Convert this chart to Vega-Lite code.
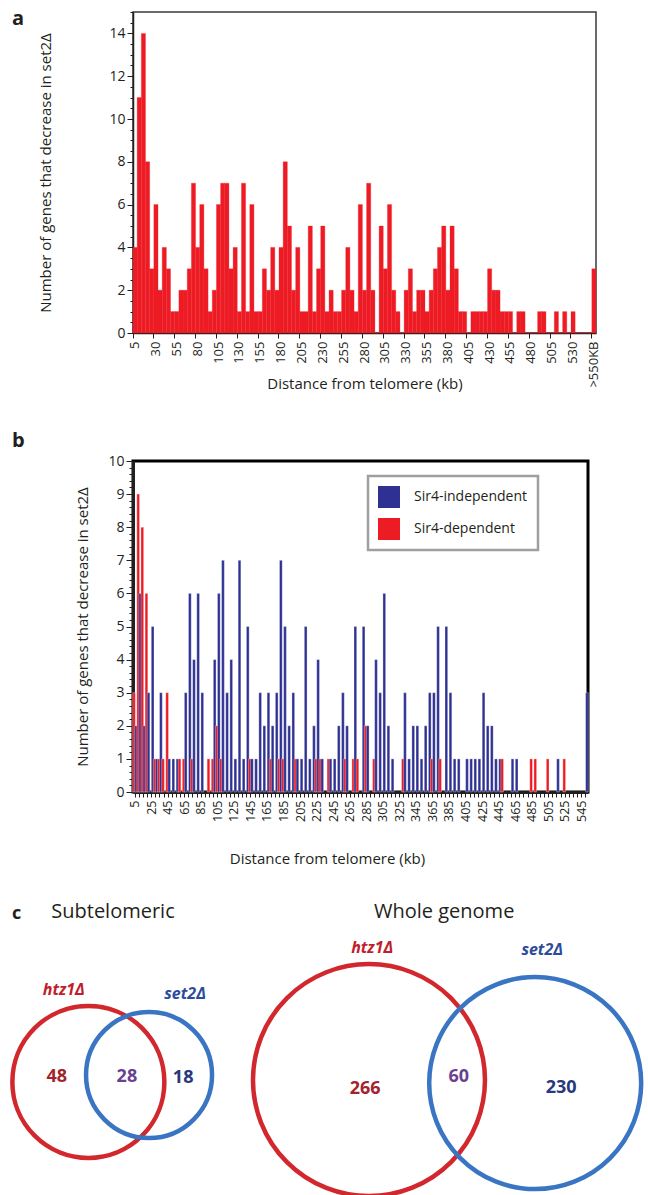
{
  "$schema": "https://vega.github.io/schema/vega-lite/v6.json",
  "padding": {"left": 3, "top": 7, "right": 0, "bottom": 0},
  "background": "white",
  "bounds": "flush",
  "spacing": 128,
  "resolve": {"scale": {"color": "independent", "size": "independent"}, "legend": {"color": "independent", "size": "independent"}},
  "config": {
    "font": "Open Sans",
    "view": {"stroke": null},
    "axis": {"labelColor": "#231F20", "titleColor": "#231F20", "tickColor": "#231F20", "domainColor": "#231F20", "labelFont": "Open Sans", "titleFont": "Open Sans", "titleFontWeight": "normal", "grid": false, "tickWidth": 1},
    "title": {"font": "Open Sans", "color": "#231F20", "fontWeight": "bold"},
    "legend": {"strokeColor": "#9D9FA2", "strokeWidth": 2.5, "fillColor": "white", "padding": 10}
  },
  "datasets": {
    "hist": [
      {"kb":5,"n":4},{"kb":10,"n":11},{"kb":15,"n":14},{"kb":20,"n":8},{"kb":25,"n":3},{"kb":30,"n":6},{"kb":35,"n":2},{"kb":40,"n":4},{"kb":45,"n":3},{"kb":50,"n":1},
      {"kb":55,"n":1},{"kb":60,"n":2},{"kb":65,"n":2},{"kb":70,"n":3},{"kb":75,"n":7},{"kb":80,"n":4},{"kb":85,"n":6},{"kb":90,"n":3},{"kb":95,"n":1},{"kb":100,"n":2},
      {"kb":105,"n":6},{"kb":110,"n":7},{"kb":115,"n":7},{"kb":120,"n":3},{"kb":125,"n":4},{"kb":130,"n":1},{"kb":135,"n":7},{"kb":140,"n":1},{"kb":145,"n":6},{"kb":150,"n":1},
      {"kb":155,"n":1},{"kb":160,"n":3},{"kb":165,"n":2},{"kb":170,"n":4},{"kb":175,"n":2},{"kb":180,"n":4},{"kb":185,"n":8},{"kb":190,"n":5},{"kb":195,"n":2},{"kb":200,"n":4},
      {"kb":205,"n":1},{"kb":210,"n":1},{"kb":215,"n":5},{"kb":220,"n":1},{"kb":225,"n":3},{"kb":230,"n":5},{"kb":235,"n":1},{"kb":240,"n":2},{"kb":245,"n":1},{"kb":250,"n":1},
      {"kb":255,"n":2},{"kb":260,"n":4},{"kb":265,"n":2},{"kb":270,"n":1},{"kb":275,"n":6},{"kb":280,"n":2},{"kb":285,"n":7},{"kb":290,"n":2},{"kb":295,"n":0},{"kb":300,"n":5},
      {"kb":305,"n":3},{"kb":310,"n":6},{"kb":315,"n":2},{"kb":320,"n":1},{"kb":325,"n":0},{"kb":330,"n":2},{"kb":335,"n":3},{"kb":340,"n":1},{"kb":345,"n":2},{"kb":350,"n":2},
      {"kb":355,"n":1},{"kb":360,"n":2},{"kb":365,"n":3},{"kb":370,"n":4},{"kb":375,"n":5},{"kb":380,"n":2},{"kb":385,"n":5},{"kb":390,"n":3},{"kb":395,"n":1},{"kb":400,"n":1},
      {"kb":405,"n":0},{"kb":410,"n":1},{"kb":415,"n":1},{"kb":420,"n":1},{"kb":425,"n":1},{"kb":430,"n":3},{"kb":435,"n":2},{"kb":440,"n":2},{"kb":445,"n":1},{"kb":450,"n":1},
      {"kb":455,"n":1},{"kb":460,"n":0},{"kb":465,"n":1},{"kb":470,"n":1},{"kb":475,"n":0},{"kb":480,"n":0},{"kb":485,"n":0},{"kb":490,"n":1},{"kb":495,"n":1},{"kb":500,"n":0},
      {"kb":505,"n":0},{"kb":510,"n":1},{"kb":515,"n":0},{"kb":520,"n":1},{"kb":525,"n":0},{"kb":530,"n":1},{"kb":535,"n":0},{"kb":540,"n":0},{"kb":545,"n":0},{"kb":550,"n":0},
      {"kb":555,"n":3}
    ],
    "sir": [
      {"d":5,"s":"Sir4-dependent","n":3},{"d":5,"s":"Sir4-independent","n":2},
      {"d":10,"s":"Sir4-dependent","n":9},{"d":10,"s":"Sir4-independent","n":6},
      {"d":15,"s":"Sir4-dependent","n":8},{"d":15,"s":"Sir4-independent","n":2},
      {"d":20,"s":"Sir4-dependent","n":6},{"d":20,"s":"Sir4-independent","n":3},
      {"d":25,"s":"Sir4-independent","n":5},
      {"d":30,"s":"Sir4-dependent","n":1},{"d":30,"s":"Sir4-independent","n":1},
      {"d":35,"s":"Sir4-dependent","n":1},{"d":35,"s":"Sir4-independent","n":3},
      {"d":40,"s":"Sir4-dependent","n":1},
      {"d":45,"s":"Sir4-dependent","n":3},{"d":45,"s":"Sir4-independent","n":1},
      {"d":50,"s":"Sir4-independent","n":1},
      {"d":55,"s":"Sir4-independent","n":1},
      {"d":60,"s":"Sir4-dependent","n":1},
      {"d":65,"s":"Sir4-dependent","n":1},{"d":65,"s":"Sir4-independent","n":3},
      {"d":70,"s":"Sir4-independent","n":6},
      {"d":75,"s":"Sir4-dependent","n":1},{"d":75,"s":"Sir4-independent","n":4},
      {"d":80,"s":"Sir4-independent","n":6},
      {"d":85,"s":"Sir4-independent","n":3},
      {"d":95,"s":"Sir4-dependent","n":1},
      {"d":100,"s":"Sir4-dependent","n":1},{"d":100,"s":"Sir4-independent","n":4},
      {"d":105,"s":"Sir4-dependent","n":2},{"d":105,"s":"Sir4-independent","n":6},
      {"d":110,"s":"Sir4-dependent","n":1},{"d":110,"s":"Sir4-independent","n":7},
      {"d":115,"s":"Sir4-independent","n":3},
      {"d":120,"s":"Sir4-independent","n":4},
      {"d":125,"s":"Sir4-independent","n":1},
      {"d":130,"s":"Sir4-independent","n":7},
      {"d":135,"s":"Sir4-independent","n":1},
      {"d":140,"s":"Sir4-independent","n":5},
      {"d":145,"s":"Sir4-dependent","n":1},{"d":145,"s":"Sir4-independent","n":1},
      {"d":150,"s":"Sir4-independent","n":1},
      {"d":155,"s":"Sir4-independent","n":3},
      {"d":160,"s":"Sir4-independent","n":2},
      {"d":165,"s":"Sir4-independent","n":3},
      {"d":170,"s":"Sir4-dependent","n":1},{"d":170,"s":"Sir4-independent","n":2},
      {"d":175,"s":"Sir4-independent","n":3},
      {"d":180,"s":"Sir4-dependent","n":1},{"d":180,"s":"Sir4-independent","n":7},
      {"d":185,"s":"Sir4-dependent","n":1},{"d":185,"s":"Sir4-independent","n":5},
      {"d":190,"s":"Sir4-independent","n":2},
      {"d":195,"s":"Sir4-independent","n":3},
      {"d":200,"s":"Sir4-dependent","n":1},{"d":200,"s":"Sir4-independent","n":1},
      {"d":205,"s":"Sir4-independent","n":1},
      {"d":210,"s":"Sir4-independent","n":5},
      {"d":215,"s":"Sir4-independent","n":1},
      {"d":220,"s":"Sir4-independent","n":2},
      {"d":225,"s":"Sir4-dependent","n":1},{"d":225,"s":"Sir4-independent","n":4},
      {"d":230,"s":"Sir4-dependent","n":1},{"d":230,"s":"Sir4-independent","n":1},
      {"d":240,"s":"Sir4-dependent","n":1},{"d":240,"s":"Sir4-independent","n":1},
      {"d":245,"s":"Sir4-independent","n":1},
      {"d":250,"s":"Sir4-independent","n":2},
      {"d":255,"s":"Sir4-independent","n":3},
      {"d":260,"s":"Sir4-dependent","n":1},{"d":260,"s":"Sir4-independent","n":2},
      {"d":270,"s":"Sir4-dependent","n":1},{"d":270,"s":"Sir4-independent","n":5},
      {"d":275,"s":"Sir4-dependent","n":1},
      {"d":280,"s":"Sir4-independent","n":5},
      {"d":285,"s":"Sir4-dependent","n":2},{"d":285,"s":"Sir4-independent","n":2},
      {"d":295,"s":"Sir4-dependent","n":1},{"d":295,"s":"Sir4-independent","n":4},
      {"d":300,"s":"Sir4-independent","n":3},
      {"d":305,"s":"Sir4-independent","n":6},
      {"d":310,"s":"Sir4-independent","n":2},
      {"d":315,"s":"Sir4-independent","n":1},
      {"d":330,"s":"Sir4-dependent","n":1},{"d":330,"s":"Sir4-independent","n":3},
      {"d":335,"s":"Sir4-independent","n":1},
      {"d":340,"s":"Sir4-independent","n":2},
      {"d":345,"s":"Sir4-independent","n":2},
      {"d":350,"s":"Sir4-independent","n":1},
      {"d":355,"s":"Sir4-independent","n":2},
      {"d":360,"s":"Sir4-independent","n":3},
      {"d":365,"s":"Sir4-dependent","n":1},{"d":365,"s":"Sir4-independent","n":3},
      {"d":370,"s":"Sir4-independent","n":5},
      {"d":375,"s":"Sir4-dependent","n":1},
      {"d":380,"s":"Sir4-independent","n":5},
      {"d":385,"s":"Sir4-independent","n":3},
      {"d":390,"s":"Sir4-independent","n":1},
      {"d":395,"s":"Sir4-independent","n":1},
      {"d":405,"s":"Sir4-independent","n":1},
      {"d":410,"s":"Sir4-independent","n":1},
      {"d":415,"s":"Sir4-independent","n":1},
      {"d":420,"s":"Sir4-independent","n":1},
      {"d":425,"s":"Sir4-independent","n":3},
      {"d":430,"s":"Sir4-independent","n":2},
      {"d":435,"s":"Sir4-independent","n":2},
      {"d":440,"s":"Sir4-independent","n":1},
      {"d":445,"s":"Sir4-independent","n":1},
      {"d":450,"s":"Sir4-dependent","n":1},
      {"d":460,"s":"Sir4-independent","n":1},
      {"d":465,"s":"Sir4-independent","n":1},
      {"d":485,"s":"Sir4-dependent","n":1},
      {"d":490,"s":"Sir4-dependent","n":1},
      {"d":505,"s":"Sir4-dependent","n":1},
      {"d":515,"s":"Sir4-independent","n":1},
      {"d":525,"s":"Sir4-dependent","n":1},
      {"d":550,"s":"Sir4-independent","n":3}
    ],
    "venn": [
      {"kind":"circle","diagram":"Subtelomeric","grp":"htz1Δ","total":76,"px":12.4,"py":37.7},
      {"kind":"circle","diagram":"Subtelomeric","grp":"set2Δ","total":46,"px":22.0,"py":40.0},
      {"kind":"circle","diagram":"Whole genome","grp":"htz1Δ","total":326,"px":56.8,"py":38.3},
      {"kind":"circle","diagram":"Whole genome","grp":"set2Δ","total":290,"px":83.1,"py":37.3},
      {"kind":"count","diagram":"Subtelomeric","grp":"htz1Δ only","label":"48","px":7.4,"py":39.3},
      {"kind":"count","diagram":"Subtelomeric","grp":"both","label":"28","px":18.5,"py":39.3},
      {"kind":"count","diagram":"Subtelomeric","grp":"set2Δ only","label":"18","px":27.4,"py":39.0},
      {"kind":"count","diagram":"Whole genome","grp":"htz1Δ only","label":"266","px":56.2,"py":35.3},
      {"kind":"count","diagram":"Whole genome","grp":"both","label":"60","px":71.0,"py":39.3},
      {"kind":"count","diagram":"Whole genome","grp":"set2Δ only","label":"230","px":87.2,"py":35.7},
      {"kind":"name","diagram":"Subtelomeric","grp":"htz1Δ name","label":"htz1Δ","px":8.5,"py":68.3},
      {"kind":"name","diagram":"Subtelomeric","grp":"set2Δ name","label":"set2Δ","px":27.7,"py":67.0},
      {"kind":"name","diagram":"Whole genome","grp":"htz1Δ name","label":"htz1Δ","px":57.3,"py":82.3},
      {"kind":"name","diagram":"Whole genome","grp":"set2Δ name","label":"set2Δ","px":84.2,"py":81.7},
      {"kind":"heading","diagram":"Subtelomeric","grp":"heading","label":"Subtelomeric","px":16.3,"py":94.3},
      {"kind":"heading","diagram":"Whole genome","grp":"heading","label":"Whole genome","px":68.7,"py":94.3}
    ]
  },
  "vconcat": [
    {
      "width": 463,
      "height": 321,
      "view": {"stroke": "#3a3a3a", "strokeWidth": 1.5},
      "title": {"text": "a", "anchor": "start", "frame": "group", "dx": -121, "offset": -33, "baseline": "alphabetic", "fontSize": 20},
      "data": {"name": "hist"},
      "mark": {"type": "bar", "color": "#ED1C24", "stroke": "#ED1C24", "strokeWidth": 0.3},
      "encoding": {
        "x": {
          "field": "kb", "type": "ordinal",
          "scale": {"paddingInner": 0, "paddingOuter": 0},
          "axis": {
            "title": "Distance from telomere (kb)",
            "values": [5,30,55,80,105,130,155,180,205,230,255,280,305,330,355,380,405,430,455,480,505,530,555],
            "bandPosition": 0,
            "labelAngle": -90,
            "labelExpr": "datum.value == 555 ? '>550KB' : datum.label",
            "labelOverlap": false,
            "labelFontSize": 13,
            "labelPadding": 3,
            "tickSize": 5,
            "domainWidth": 1.5,
            "titleFontSize": 15,
            "titleY": 50,
            "titleBaseline": "middle"
          }
        },
        "y": {
          "field": "n", "type": "quantitative",
          "scale": {"domain": [0, 15], "nice": false},
          "axis": {
            "title": "Number of genes that decrease in set2Δ",
            "values": [0,0.5,1,1.5,2,2.5,3,3.5,4,4.5,5,5.5,6,6.5,7,7.5,8,8.5,9,9.5,10,10.5,11,11.5,12,12.5,13,13.5,14,14.5,15],
            "labelExpr": "datum.value % 2 == 0 && datum.value < 15 ? format(datum.value, 'd') : ''",
            "tickSize": {"expr": "datum.value % 2 == 0 ? 6 : 3"},
            "labelFontSize": 14,
            "domainWidth": 1.5,
            "titleFontSize": 15,
            "titleX": -88,
            "titleBaseline": "middle"
          }
        }
      }
    },
    {
      "width": 455,
      "height": 331,
      "view": {"stroke": "#000000", "strokeWidth": 3},
      "title": {"text": "b", "anchor": "start", "frame": "group", "dx": -121, "offset": -13, "baseline": "alphabetic", "fontSize": 20},
      "data": {"name": "sir"},
      "mark": {"type": "bar", "size": 2.7, "stroke": "white", "strokeWidth": 0.3},
      "encoding": {
        "x": {
          "field": "d", "type": "ordinal",
          "scale": {
            "domain": [5,10,15,20,25,30,35,40,45,50,55,60,65,70,75,80,85,90,95,100,105,110,115,120,125,130,135,140,145,150,155,160,165,170,175,180,185,190,195,200,205,210,215,220,225,230,235,240,245,250,255,260,265,270,275,280,285,290,295,300,305,310,315,320,325,330,335,340,345,350,355,360,365,370,375,380,385,390,395,400,405,410,415,420,425,430,435,440,445,450,455,460,465,470,475,480,485,490,495,500,505,510,515,520,525,530,535,540,545,550],
            "paddingInner": 0, "paddingOuter": 0
          },
          "axis": {
            "title": "Distance from telomere (kb)",
            "labelAngle": -90,
            "labelExpr": "(datum.value - 5) % 20 == 0 ? datum.label : ''",
            "labelOverlap": false,
            "labelFontSize": 12.5,
            "labelPadding": 3,
            "tickSize": 5,
            "domainWidth": 3,
            "titleFontSize": 15,
            "titleX": 194,
            "titleY": 66,
            "titleBaseline": "middle"
          }
        },
        "xOffset": {
          "field": "s", "type": "nominal",
          "scale": {"domain": ["Sir4-dependent", "Sir4-independent"], "paddingInner": 0, "paddingOuter": 0}
        },
        "y": {
          "field": "n", "type": "quantitative",
          "scale": {"domain": [0, 10], "nice": false},
          "axis": {
            "title": "Number of genes that decrease in set2Δ",
            "values": [0,0.2,0.4,0.6,0.8,1,1.2,1.4,1.6,1.8,2,2.2,2.4,2.6,2.8,3,3.2,3.4,3.6,3.8,4,4.2,4.4,4.6,4.8,5,5.2,5.4,5.6,5.8,6,6.2,6.4,6.6,6.8,7,7.2,7.4,7.6,7.8,8,8.2,8.4,8.6,8.8,9,9.2,9.4,9.6,9.8,10],
            "labelExpr": "datum.value % 1 == 0 ? format(datum.value, 'd') : ''",
            "tickSize": {"expr": "datum.value % 1 == 0 ? 7 : 4"},
            "labelFontSize": 14,
            "domainWidth": 3,
            "titleFontSize": 15,
            "titleX": -51,
            "titleBaseline": "middle"
          }
        },
        "color": {
          "field": "s", "type": "nominal",
          "scale": {"domain": ["Sir4-independent", "Sir4-dependent"], "range": ["#2E3192", "#ED1C24"]},
          "legend": {
            "title": null,
            "orient": "none",
            "legendX": 235,
            "legendY": 15,
            "direction": "vertical",
            "symbolType": "square",
            "symbolSize": 484,
            "symbolStrokeWidth": 0,
            "symbolOpacity": 1,
            "labelFontSize": 14,
            "labelFont": "Open Sans",
            "labelColor": "#231F20",
            "labelOffset": 14,
            "rowPadding": 10
          }
        }
      }
    },
    {
      "width": 463,
      "height": 275,
      "view": {"stroke": null},
      "title": {"text": "c", "anchor": "start", "frame": "group", "dx": -121, "offset": -35, "baseline": "alphabetic", "fontSize": 18},
      "data": {"name": "venn"},
      "encoding": {
        "x": {"field": "px", "type": "quantitative", "scale": {"domain": [0, 100], "range": [-123, 509]}, "axis": null},
        "y": {"field": "py", "type": "quantitative", "scale": {"domain": [0, 100], "range": [275, -25]}, "axis": null}
      },
      "layer": [
        {
          "transform": [{"filter": "datum.kind == 'circle'"}],
          "mark": {"type": "point", "shape": "circle", "filled": false, "strokeWidth": 4.5, "opacity": 1},
          "encoding": {
            "size": {"field": "total", "type": "quantitative", "scale": {"domain": [46, 76, 290, 326], "range": [15876, 23104, 44944, 53824]}, "legend": null},
            "color": {"field": "grp", "type": "nominal", "scale": {"domain": ["htz1Δ", "set2Δ", "htz1Δ only", "both", "set2Δ only", "htz1Δ name", "set2Δ name", "heading"], "range": ["#D1272D", "#3A75C4", "#A3242B", "#6B3F91", "#28387F", "#BE1E2D", "#2B4C9B", "#231F20"]}, "legend": null}
          }
        },
        {
          "transform": [{"filter": "datum.kind == 'count'"}],
          "mark": {"type": "text", "fontSize": 18, "fontWeight": "bold", "align": "center", "baseline": "middle"},
          "encoding": {
            "text": {"field": "label"},
            "color": {"field": "grp", "type": "nominal", "scale": {"domain": ["htz1Δ", "set2Δ", "htz1Δ only", "both", "set2Δ only", "htz1Δ name", "set2Δ name", "heading"], "range": ["#D1272D", "#3A75C4", "#A3242B", "#6B3F91", "#28387F", "#BE1E2D", "#2B4C9B", "#231F20"]}, "legend": null}
          }
        },
        {
          "transform": [{"filter": "datum.kind == 'name'"}],
          "mark": {"type": "text", "fontSize": 16, "fontWeight": "bold", "fontStyle": "italic", "align": "center", "baseline": "middle"},
          "encoding": {
            "text": {"field": "label"},
            "color": {"field": "grp", "type": "nominal", "scale": {"domain": ["htz1Δ", "set2Δ", "htz1Δ only", "both", "set2Δ only", "htz1Δ name", "set2Δ name", "heading"], "range": ["#D1272D", "#3A75C4", "#A3242B", "#6B3F91", "#28387F", "#BE1E2D", "#2B4C9B", "#231F20"]}, "legend": null}
          }
        },
        {
          "transform": [{"filter": "datum.kind == 'heading'"}],
          "mark": {"type": "text", "fontSize": 20, "align": "center", "baseline": "middle", "color": "#231F20"},
          "encoding": {
            "text": {"field": "label"}
          }
        }
      ]
    }
  ]
}
